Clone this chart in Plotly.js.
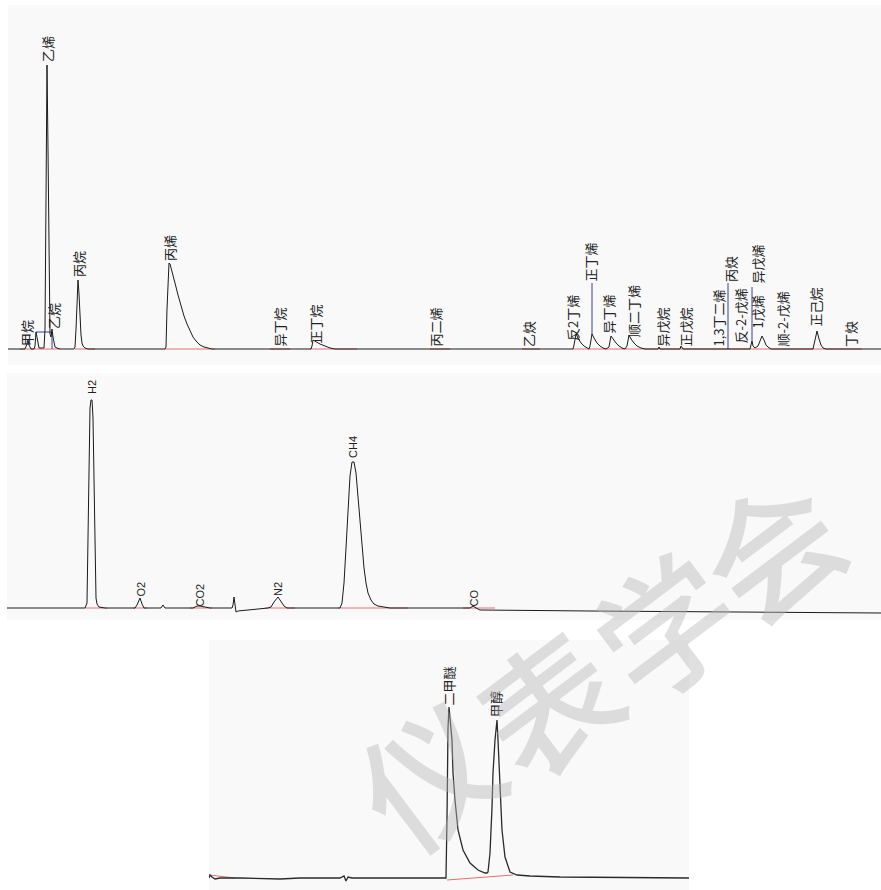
<!DOCTYPE html>
<html>
<head>
<meta charset="utf-8">
<script src="https://cdn.plot.ly/plotly-3.0.1.min.js"></script>
<style>html,body{margin:0;padding:0;background:#fff;}#chart{width:881px;height:890px;}</style>
</head>
<body>
<div id="chart"></div>
<script>
// ---------- Panel 1: hydrocarbons ----------
const p1Time = [8,20,25,27,28,29,30,31,34,35,36,37,38,39,44,45,46,47,48,49,50,51,52,53,54,55,57,60,74,75,76,77,78,79,80,81,82,83,85,88,165,166,167,168,169,170,172,175,178,181,184,187,190,193,196,200,204,208,212,311,312,313,316,320,325,330,335,573,574,576,578,581,584,587,589,590,592,594,597,600,603,606,609,611,613,616,619,622,625,627,629,631,634,637,641,645,658,659,660,680,681,682,683,750,751,752,753,755,758,760,762,764,766,768,771,813,815,817,819,821,823,826,881];
const p1Signal = [0,0,0,5,9,4,1,0,0,3,17,10,4,1,1,20,150,284,200,60,15,12,20,12,5,2,1,0,0,2,20,55,69,55,30,14,6,3,1,0,0,2,40,75,86,85,78,66,54,43,33,25,18,12,8,4,2,1,0,0,3,9,7,5,3,1,0,0,4,15,11,6,3,1,0,3,15,11,6,3,1,0,2,13,10,6,3,1,0,3,14,10,6,3,1,0,0,2,0,0,3,1,0,0,3,8,3,1,3,8,13,9,4,2,0,0,8,18,10,4,1,0,0];
const p1Names = ["甲烷","乙烷","乙烯","丙烷","丙烯","异丁烷","正丁烷","丙二烯","乙炔","反2丁烯","正丁烯","异丁烯","顺二丁烯","异戊烷","正戊烷","1,3丁二烯","丙炔","反-2-戊烯","1戊烯","异戊烯","顺-2-戊烯","正己烷","丁炔"];
const p1NameX = [26,53,47,78,169,279,315,435,528,572,590,608,633,662,685,718,730,740,757,757,782,815,850];
const p1NameY = [2,19,286,71,87,1,4,1,1,7,66,14,11,1,1,1,66,4,19,64,1,21,1];
const p1BaseStart = [20,75,165,270,310,430,522,573];
const p1BaseEnd = [60,95,215,290,357,450,540,862];
const p1MarkX = [[36,52,52],[592,592],[728,728],[752,752]];
const p1MarkY = [[17,17,0],[14,66],[0,66],[8,62]];

// ---------- Panel 2: permanent gases ----------
const p2Time = [7,60,85,87,88,89,90,91,92,93,94,95,96,97,99,105,135,137,140,142,144,161,163,165,193,197,200,205,210,232,233,234,235,236,238,250,260,268,271,274,278,281,284,287,340,342,344,346,348,350,352,354,356,358,360,362,364,366,368,371,374,378,383,390,470,473,476,480,590,700,881];
const p2Signal = [0,0,0,5,60,150,200,208,208,190,120,40,10,4,1,0,0,3,10,4,0,0,3,0,0,2,2,1,0,0,3,11,2,-4,-3,-2,-1,0,1,6,11,7,2,0,0,5,25,60,100,132,146,146,135,112,85,60,40,25,15,8,4,2,1,0,0,2,0,-2,-3,-4,-5];
const p2Names = ["H2","O2","CO2","N2","CH4","CO"];
const p2NameX = [92,140,199,278,353,473];
const p2NameY = [213,10,0,11,149,0];
const p2BaseStart = [85,133,190,265,338,463];
const p2BaseEnd = [107,147,212,295,408,495];

// ---------- Panel 3: oxygenates ----------
const p3Time = [209,210,212,215,220,240,280,300,340,344,346,348,352,446,447,448,449,450,452,453,455,458,463,470,478,485,487,488,490,492,493,495,497,498,500,502,505,510,517,530,560,689];
const p3Signal = [0,3,1,-1,0,0,-1,0,0,2,-3,1,0,0,60,150,171,160,138,105,78,48,28,15,8,5,5,6,25,70,105,138,158,138,88,48,21,6,3,2,1,0];
const p3Names = ["二甲醚","甲醇"];
const p3NameX = [448,495];
const p3NameY = [171,160];
const p3BaseStart = [209,447];
const p3BaseEnd = [235,513];
const p3BaseY0 = [3,-2];
const p3BaseY1 = [0,3];

// ---------- watermark ----------
const watermarkChars = ["仪","表","学","会"];
const watermarkX = [425,545,662,768];
const watermarkY = [772,700,622,545];

// ---------- build ----------
const lineColor = '#1a1a1a';
const redColor = '#e07070';
const blueColor = '#3c3c96';
const traces = [];

function segTrace(starts, ends, y0s, y1s, xa, ya) {
  const xs = [], ys = [];
  for (let i = 0; i < starts.length; i++) {
    xs.push(starts[i], ends[i], null);
    ys.push(y0s ? y0s[i] : 0, y1s ? y1s[i] : 0, null);
  }
  return {x: xs, y: ys, xaxis: xa, yaxis: ya, mode: 'lines', line: {color: redColor, width: 1}, hoverinfo: 'skip', showlegend: false};
}

traces.push(segTrace(p1BaseStart, p1BaseEnd, null, null, 'x', 'y'));
traces.push(segTrace(p2BaseStart, p2BaseEnd, null, null, 'x2', 'y2'));
traces.push(segTrace(p3BaseStart, p3BaseEnd, p3BaseY0, p3BaseY1, 'x3', 'y3'));

p1MarkX.forEach((mx, i) => {
  traces.push({x: mx, y: p1MarkY[i], xaxis: 'x', yaxis: 'y', mode: 'lines', line: {color: blueColor, width: 1}, hoverinfo: 'skip', showlegend: false});
});

traces.push({x: p1Time, y: p1Signal, xaxis: 'x', yaxis: 'y', mode: 'lines', line: {color: lineColor, width: 1}, showlegend: false});
traces.push({x: p2Time, y: p2Signal, xaxis: 'x2', yaxis: 'y2', mode: 'lines', line: {color: lineColor, width: 1}, showlegend: false});
traces.push({x: p3Time, y: p3Signal, xaxis: 'x3', yaxis: 'y3', mode: 'lines', line: {color: '#2a2a2a', width: 1.3}, showlegend: false});

const annotations = [];
function addLabels(names, xs, ys, xref, yref, font) {
  names.forEach((n, i) => {
    annotations.push({text: n, x: xs[i], y: ys[i], xref: xref, yref: yref, showarrow: false,
      textangle: -90, xanchor: 'center', yanchor: 'bottom', font: font, borderpad: 0});
  });
}
const cjkFont = {family: '"Noto Sans CJK SC", sans-serif', size: 13, color: '#222'};
const latFont = {family: '"Liberation Sans", Arial, sans-serif', size: 11, color: '#222'};
addLabels(p1Names, p1NameX, p1NameY, 'x', 'y', cjkFont);
addLabels(p2Names, p2NameX, p2NameY, 'x2', 'y2', latFont);
addLabels(p3Names, p3NameX, p3NameY, 'x3', 'y3', cjkFont);

watermarkChars.forEach((c, i) => {
  annotations.push({text: c, xref: 'paper', yref: 'paper', x: watermarkX[i]/881, y: 1 - watermarkY[i]/890,
    xanchor: 'center', yanchor: 'middle', showarrow: false, textangle: -37, borderpad: 0,
    font: {family: '"Noto Sans CJK SC", sans-serif', size: 135, weight: 500, color: 'rgba(180,180,180,0.42)'}});
});

const hidden = {showgrid: false, zeroline: false, showticklabels: false, ticks: '', showline: false, fixedrange: true};
const layout = {
  width: 881, height: 890,
  margin: {l: 0, r: 0, t: 0, b: 0},
  paper_bgcolor: '#ffffff',
  plot_bgcolor: '#f9f9f9',
  showlegend: false,
  xaxis:  Object.assign({}, hidden, {domain: [8/881, 1], range: [8, 881], anchor: 'y'}),
  yaxis:  Object.assign({}, hidden, {domain: [1-365/890, 1-5/890], range: [-16, 344], anchor: 'x'}),
  xaxis2: Object.assign({}, hidden, {domain: [7/881, 1], range: [7, 881], anchor: 'y2'}),
  yaxis2: Object.assign({}, hidden, {domain: [1-620/890, 1-373/890], range: [-12, 235], anchor: 'x2'}),
  xaxis3: Object.assign({}, hidden, {domain: [209/881, 689/881], range: [209, 689], anchor: 'y3'}),
  yaxis3: Object.assign({}, hidden, {domain: [0, 1-640/890], range: [-12, 238], anchor: 'x3'}),
  annotations: annotations
};
Plotly.newPlot('chart', traces, layout, {staticPlot: true, displayModeBar: false});
</script>
</body>
</html>
